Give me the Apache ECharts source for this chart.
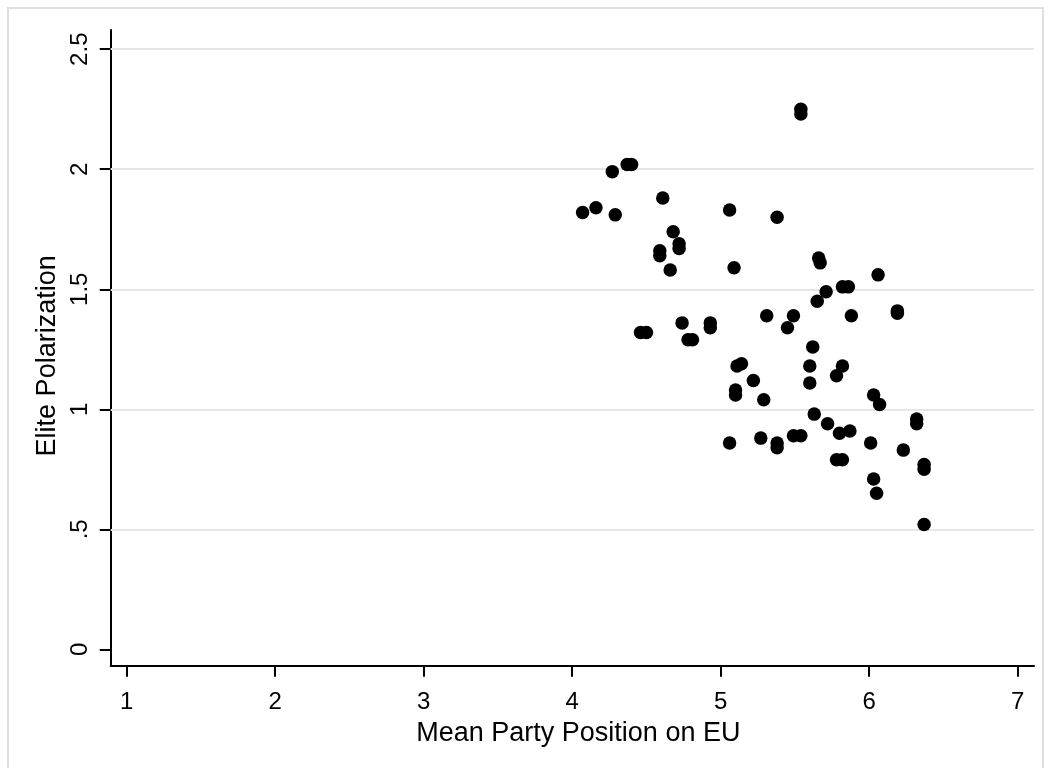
<!DOCTYPE html>
<html>
<head>
<meta charset="utf-8">
<script src="https://cdn.jsdelivr.net/npm/echarts@6/dist/echarts.min.js"></script>
<style>
html,body{margin:0;padding:0;background:#fff;}
#chart{width:1050px;height:768px;}
</style>
</head>
<body>
<div id="chart"></div>
<script>
// Mean Party Position on EU (x) vs Elite Polarization (y)
var partyPosition = [4.07,4.16,4.29,4.27,4.37,4.40,4.61,4.68,4.72,4.72,4.59,4.59,4.66,5.06,5.38,5.54,5.54,5.09,
  4.46,4.50,4.74,4.78,4.81,4.93,4.93,5.31,5.49,5.45,5.62,5.11,5.14,5.22,5.10,5.10,5.29,5.60,5.60,
  5.06,5.27,5.38,5.38,5.49,5.54,5.66,5.67,6.06,5.71,5.65,5.82,5.86,5.88,6.19,6.19,5.82,5.78,6.03,6.07,
  5.63,5.72,5.80,5.87,6.01,6.23,6.32,6.32,6.37,6.37,5.78,5.82,6.03,6.05,6.37];
var elitePolarization = [1.82,1.84,1.81,1.99,2.02,2.02,1.88,1.74,1.69,1.67,1.66,1.64,1.58,1.83,1.80,2.25,2.23,1.59,
  1.32,1.32,1.36,1.29,1.29,1.36,1.34,1.39,1.39,1.34,1.26,1.18,1.19,1.12,1.08,1.06,1.04,1.18,1.11,
  0.86,0.88,0.86,0.84,0.89,0.89,1.63,1.61,1.56,1.49,1.45,1.51,1.51,1.39,1.41,1.40,1.18,1.14,1.06,1.02,
  0.98,0.94,0.90,0.91,0.86,0.83,0.96,0.94,0.77,0.75,0.79,0.79,0.71,0.65,0.52];
var xTicks = [1,2,3,4,5,6,7];
var xTickLabels = ['1','2','3','4','5','6','7'];
var yTicks = [0,0.5,1,1.5,2,2.5];
var yTickLabels = ['0','.5','1','1.5','2','2.5'];
var yGridLines = [0.5,1,1.5,2,2.5];

var points = partyPosition.map(function(x,i){return [x, elitePolarization[i]];});
var FONT = '"Liberation Sans", Arial, Helvetica, sans-serif';

var chart = echarts.init(document.getElementById('chart'), null, {renderer:'canvas'});
chart.setOption({
  backgroundColor:'#ffffff',
  animation:false,
  graphic:[{
    type:'rect', left:7, top:7, silent:true, z:-10,
    shape:{width:1035, height:780},
    style:{fill:'#ffffff', stroke:'#e0e0e0', lineWidth:2}
  }],
  grid:{left:110.7, right:16, top:30, bottom:102.3, containLabel:false},
  xAxis:{
    type:'value', min:0.892, max:7.11,
    axisLine:{show:true, onZero:false, lineStyle:{color:'#000', width:2}},
    axisTick:{show:true, customValues:xTicks, length:11, lineStyle:{color:'#000', width:2}},
    axisLabel:{show:true, customValues:xTicks, margin:25, fontSize:24, color:'#000', fontFamily:FONT,
      formatter:function(v){var i=xTicks.indexOf(v);return i>=0?xTickLabels[i]:'';}},
    splitLine:{show:false},
    name:'Mean Party Position on EU', nameLocation:'middle', nameGap:44,
    nameTextStyle:{fontSize:27, color:'#000', fontFamily:FONT, padding:[0,0,0,12]}
  },
  yAxis:{
    type:'value', min:-0.068, max:2.58,
    axisLine:{show:true, onZero:false, lineStyle:{color:'#000', width:2}},
    axisTick:{show:true, customValues:yTicks, length:11, lineStyle:{color:'#000', width:2}},
    axisLabel:{show:true, customValues:yTicks, rotate:90, margin:18, fontSize:24, color:'#000', fontFamily:FONT,
      formatter:function(v){var i=yTicks.indexOf(v);return i>=0?yTickLabels[i]:'';}},
    splitLine:{show:false},
    name:'Elite Polarization', nameLocation:'middle', nameGap:46,
    nameTextStyle:{fontSize:27, color:'#000', fontFamily:FONT, padding:[0,16,0,0]}
  },
  series:[{
    type:'scatter',
    data:points,
    symbol:'circle',
    symbolSize:13.5,
    itemStyle:{color:'#000', opacity:1},
    z:3,
    silent:true,
    markLine:{
      silent:true, symbol:['none','none'], z:1,
      label:{show:false},
      lineStyle:{color:'#e6e6e6', width:2, type:'solid'},
      emphasis:{disabled:true},
      data:yGridLines.map(function(v){return {yAxis:v};})
    }
  }]
});
</script>
</body>
</html>
